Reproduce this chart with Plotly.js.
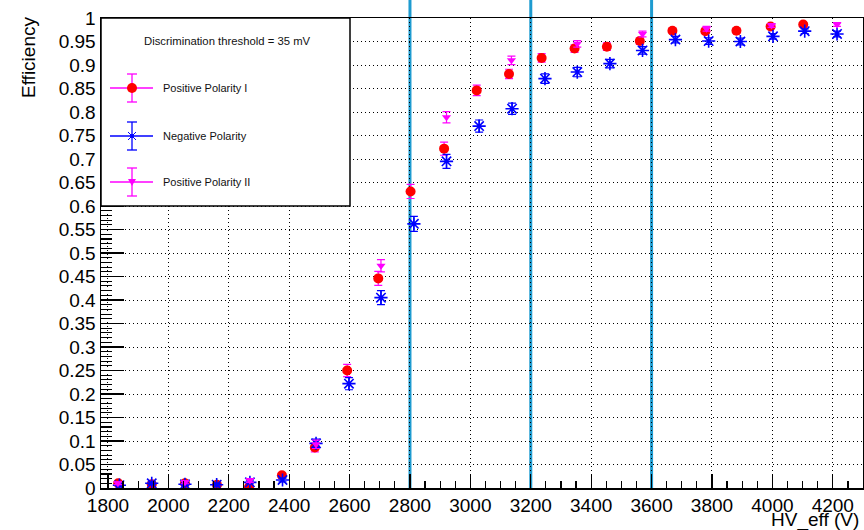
<!DOCTYPE html>
<html>
<head>
<meta charset="utf-8">
<script src="https://cdn.plot.ly/plotly-3.0.1.min.js"></script>
<style>html,body{margin:0;padding:0;background:#fff;}#chart{width:864px;height:530px;}</style>
</head>
<body>
<div id="chart"></div>
<script>
// ---- data ----
const hvPos1 = [1834,1945,2055,2161,2267,2376,2485,2592,2695,2802,2913,3021,3128,3236,3345,3452,3561,3669,3778,3881,3994,4102];
const effPos1 = [0.010,0.008,0.010,0.007,0.002,0.027,0.086,0.250,0.446,0.631,0.722,0.846,0.881,0.915,0.935,0.939,0.951,0.973,0.972,0.973,0.982,0.986];
const errPos1 = [0.003,0.003,0.003,0.003,0.002,0.005,0.009,0.013,0.015,0.015,0.014,0.011,0.010,0.009,0.008,0.008,0.007,0.005,0.005,0.005,0.004,0.004];

const hvNeg = [1838,1945,2055,2160,2270,2378,2489,2598,2704,2813,2921,3029,3138,3247,3354,3462,3570,3679,3789,3894,4002,4107,4214];
const effNeg = [0.006,0.010,0.008,0.007,0.012,0.017,0.095,0.222,0.405,0.562,0.695,0.770,0.807,0.871,0.885,0.903,0.931,0.954,0.951,0.950,0.961,0.972,0.966];
const errNeg = [0.003,0.003,0.003,0.003,0.003,0.004,0.009,0.013,0.015,0.016,0.015,0.013,0.012,0.010,0.010,0.009,0.008,0.007,0.007,0.007,0.006,0.005,0.006];

const hvPos2 = [1833,2055,2270,2489,2704,2921,3136,3354,3570,3782,3997,4214];
const effPos2 = [0.010,0.012,0.016,0.093,0.473,0.789,0.910,0.945,0.966,0.977,0.984,0.986];
const errPos2 = [0.003,0.003,0.004,0.009,0.013,0.012,0.009,0.007,0.006,0.005,0.004,0.004];

const seriesNames = ["Positive Polarity I","Negative Polarity","Positive Polarity II"];
const legendHeader = "Discrimination threshold = 35 mV";
const refLinesHV = [2800,3200,3600];
const xTitle = "HV_eff (V)";
const yTitle = "Efficiency";

// ---- styles ----
const FONT = "Liberation Sans, Arial, Helvetica, sans-serif";
const RED = "#ff0000", BLUE = "#0000ff", MAG = "#ff00ff", AZ = "#1e9bd0";
const W = 864, H = 530, ML = 101, MR = 1, MT = 18, MB = 42;
const PW = W - ML - MR, PH = H - MT - MB;
const px = x => (x - ML) / PW;
const py = y => (MT + PH - y) / PH;

const traces = [
  {x: hvPos1, y: effPos1, type: 'scatter', mode: 'markers', name: seriesNames[0],
   marker: {symbol: 'circle', size: 10, color: RED},
   error_y: {type: 'data', array: errPos1, color: MAG, thickness: 1.2, width: 4}},
  {x: hvNeg, y: effNeg, type: 'scatter', mode: 'markers', name: seriesNames[1],
   marker: {symbol: 'asterisk-open', size: 11, color: BLUE, line: {color: BLUE, width: 1.6}},
   error_y: {type: 'data', array: errNeg, color: BLUE, thickness: 1.2, width: 4}},
  {x: hvPos2, y: effPos2, type: 'scatter', mode: 'markers', name: seriesNames[2],
   marker: {symbol: 'triangle-down', size: 8, color: MAG},
   error_y: {type: 'data', array: errPos2, color: MAG, thickness: 1.2, width: 4}}
];

const shapes = [];
refLinesHV.forEach(v => shapes.push({type: 'line', xref: 'x', yref: 'paper', x0: v, x1: v, y0: 0, y1: 1.04,
  line: {color: AZ, width: 3}, layer: 'between'}));

// legend box
shapes.push({type: 'rect', xref: 'paper', yref: 'paper', x0: px(101), x1: px(350), y0: py(206), y1: py(18),
  line: {color: '#000', width: 1.5}, fillcolor: '#fff', layer: 'above'});

function errSym(cx, cy, color) {
  const L = (x0, y0, x1, y1) => shapes.push({type: 'line', xref: 'paper', yref: 'paper',
    x0: px(x0), x1: px(x1), y0: py(y0), y1: py(y1), line: {color: color, width: 1.3}, layer: 'above'});
  L(110, cy, 153, cy);
  L(cx, cy - 14, cx, cy + 14);
  L(cx - 5, cy - 14, cx + 5, cy - 14);
  L(cx - 5, cy + 14, cx + 5, cy + 14);
}
const legY = [88, 136, 182], legX = 132;
errSym(legX, legY[0], MAG);
shapes.push({type: 'circle', xref: 'paper', yref: 'paper', x0: px(legX - 5), x1: px(legX + 5),
  y0: py(legY[0] + 5), y1: py(legY[0] - 5), fillcolor: RED, line: {color: RED, width: 0}, layer: 'above'});
errSym(legX, legY[1], BLUE);
[[-4,-4,4,4],[-4,4,4,-4]].forEach(d => shapes.push({type: 'line', xref: 'paper', yref: 'paper',
  x0: px(legX + d[0]), y0: py(legY[1] + d[1]), x1: px(legX + d[2]), y1: py(legY[1] + d[3]),
  line: {color: BLUE, width: 1}, layer: 'above'}));
shapes.push({type: 'circle', xref: 'paper', yref: 'paper', x0: px(legX - 2), x1: px(legX + 2),
  y0: py(legY[1] + 2), y1: py(legY[1] - 2), fillcolor: BLUE, line: {color: BLUE, width: 0}, layer: 'above'});
errSym(legX, legY[2], MAG);
shapes.push({type: 'path', xref: 'paper', yref: 'paper',
  path: `M ${px(legX - 4)} ${py(legY[2] - 3)} L ${px(legX + 4)} ${py(legY[2] - 3)} L ${px(legX)} ${py(legY[2] + 4)} Z`,
  fillcolor: MAG, line: {color: MAG, width: 0}, layer: 'above'});

const annotations = [
  {text: legendHeader, xref: 'paper', yref: 'paper', x: px(227), y: py(41), showarrow: false,
   xanchor: 'center', yanchor: 'middle', font: {family: FONT, size: 11.3, color: '#111'}},
  {text: yTitle, xref: 'paper', yref: 'paper', x: px(28), y: py(58), showarrow: false, textangle: -90,
   xanchor: 'center', yanchor: 'middle', font: {family: FONT, size: 19, color: '#000'}},
  {text: xTitle, xref: 'paper', yref: 'paper', x: px(861), y: py(520), showarrow: false,
   xanchor: 'right', yanchor: 'middle', font: {family: FONT, size: 19, color: '#000'}}
];
seriesNames.forEach((n, i) => annotations.push({text: n, xref: 'paper', yref: 'paper', x: px(161), y: py(legY[i]),
  showarrow: false, xanchor: 'left', yanchor: 'middle', font: {family: FONT, size: 11, color: '#111'}}));

const layout = {
  width: W, height: H,
  margin: {l: ML, r: MR, t: MT, b: MB, pad: 0},
  paper_bgcolor: '#fff', plot_bgcolor: '#fff',
  showlegend: false,
  font: {family: FONT, size: 19, color: '#000'},
  xaxis: {range: [1777, 4300], tick0: 0, dtick: 200, ticks: 'inside', ticklen: 14, tickwidth: 1.3, tickcolor: '#000',
    showline: true, linecolor: '#000', linewidth: 1.5, mirror: true, zeroline: false,
    showgrid: true, gridcolor: '#000', gridwidth: 1, griddash: '1px,3px',
    minor: {dtick: 50, ticks: 'inside', ticklen: 7, tickcolor: '#000', tickwidth: 1.2, showgrid: false},
    tickfont: {family: FONT, size: 19, color: '#000'}},
  yaxis: {range: [0, 1], tick0: 0, dtick: 0.05, ticks: 'inside', ticklen: 23, tickwidth: 1.3, tickcolor: '#000',
    showline: true, linecolor: '#000', linewidth: 1.5, mirror: true, zeroline: false,
    showgrid: true, gridcolor: '#000', gridwidth: 1, griddash: '1px,3px',
    minor: {dtick: 0.01, ticks: 'inside', ticklen: 11, tickcolor: '#000', tickwidth: 1.2, showgrid: false},
    tickfont: {family: FONT, size: 19, color: '#000'}},
  shapes: shapes,
  annotations: annotations
};

Plotly.newPlot('chart', traces, layout, {staticPlot: true, displayModeBar: false});
</script>
</body>
</html>
